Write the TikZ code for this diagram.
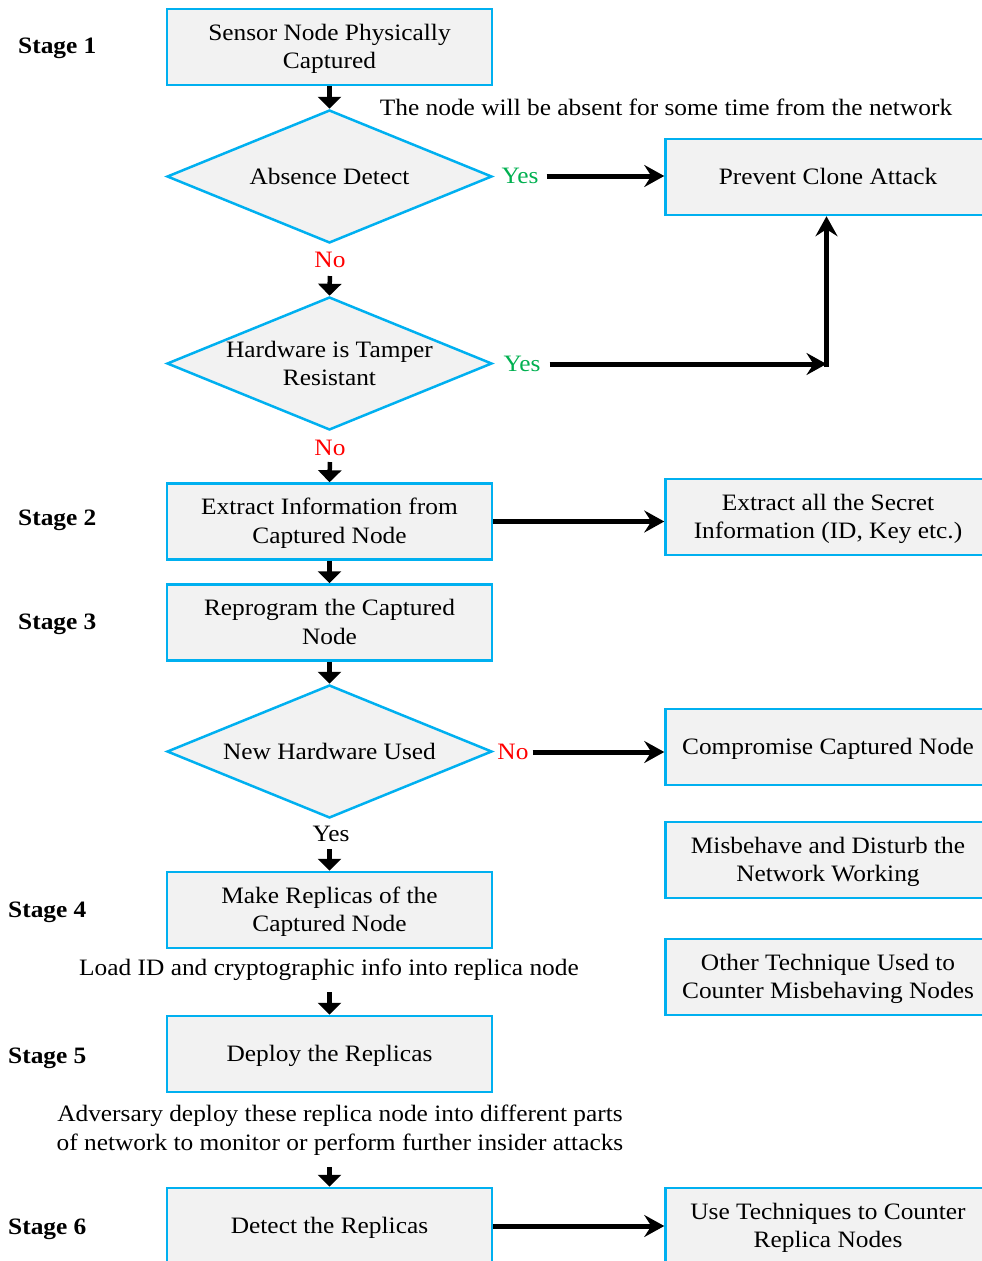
\documentclass[tikz,border=0pt]{standalone}
\usepackage{fontspec}
\setmainfont{Liberation Serif}[FakeStretch=1.08]
\usetikzlibrary{shapes.geometric,arrows.meta}
\definecolor{edge}{HTML}{00B0F0}
\definecolor{boxfill}{HTML}{F2F2F2}
\definecolor{yesgreen}{HTML}{00B050}
\definecolor{nored}{HTML}{FF0000}
% uniform line strut for text inside the process boxes
\newcommand\ls{\rule[-6.75pt]{0pt}{28.5pt}}
\newcommand\nl{\\\ls}

\begin{document}
\begin{tikzpicture}[x=1pt,y=-1pt,
  every node/.style={font=\fontsize{23.5}{28.5}\selectfont},
  procbox/.style={draw=edge, fill=boxfill, line width=2.5pt, minimum width=325pt,
    minimum height=76pt, align=center, inner sep=0pt},
  decision/.style={diamond, draw=edge, fill=boxfill, line width=2.5pt,
    minimum width=325pt, minimum height=133pt, inner sep=0pt},
  dtext/.style={align=center, inner sep=0pt},
  stagelabel/.style={font=\fontsize{23.5}{26}\selectfont\bfseries, anchor=west, inner sep=0pt},
  note/.style={align=center, inner sep=0pt},
  yeslbl/.style={text=yesgreen, inner sep=0pt},
  nolbl/.style={text=nored, inner sep=0pt},
  down/.style={line width=4.5pt, -{Triangle[length=12pt,width=23pt]}},
  side/.style={line width=5pt, -{Stealth[length=20pt,width=22pt,inset=7pt]}},
]
\useasboundingbox (0,0) rectangle (982,1261);
\clip (0,0) rectangle (982,1261);

% stage labels
\node[stagelabel] (s1) at (18,48) {Stage 1};
\node[stagelabel] (s2) at (18,520) {Stage 2};
\node[stagelabel] (s3) at (18,624) {Stage 3};
\node[stagelabel] (s4) at (8,912) {Stage 4};
\node[stagelabel] (s5) at (8,1058) {Stage 5};
\node[stagelabel] (s6) at (8,1229) {Stage 6};

% main column
\node[procbox] (capt) at (329.5,47) {\ls Sensor Node Physically\nl Captured};
\node[decision] (absent) at (329.5,176.5) {};
\node[dtext] (absentT) at (absent.center) {Absence Detect};
\node[decision] (tamper) at (329.5,363.5) {};
\node[dtext] (tamperT) at (tamper.center) {Hardware is Tamper\\Resistant};
\node[procbox] (extract) at (329.5,521.5) {\ls Extract Information from\nl Captured Node};
\node[procbox] (reprog) at (329.5,622.5) {\ls Reprogram the Captured\nl Node};
\node[decision] (newhw) at (329.5,751.5) {};
\node[dtext] (newhwT) at (newhw.center) {New Hardware Used};
\node[procbox] (replicas) at (329.5,910) {\ls Make Replicas of the\nl Captured Node};
\node[procbox] (deploy) at (329.5,1054) {\ls Deploy the Replicas};
\node[procbox] (detect) at (329.5,1226) {\ls Detect the Replicas};

% right column
\node[procbox] (prevent) at (828,177) {\ls Prevent Clone Attack};
\node[procbox] (secret) at (828,517) {\ls Extract all the Secret\nl Information (ID, Key etc.)};
\node[procbox] (compromise) at (828,747) {\ls Compromise Captured Node};
\node[procbox] (misbehave) at (828,860) {\ls Misbehave and Disturb the\nl Network Working};
\node[procbox] (other) at (828,977) {\ls Other Technique Used to\nl Counter Misbehaving Nodes};
\node[procbox] (counter) at (828,1226) {\ls Use Techniques to Counter\nl Replica Nodes};

% notes and branch labels
\node[note] (absnote) at (666,107) {The node will be absent for some time from the network};
\node[note] (loadnote) at (329,970) {Load ID and cryptographic info into replica node};
\node[note] (deploynote) at (340,1130) {Adversary deploy these replica node into different parts\\of network to monitor or perform further insider attacks};
\node[yeslbl] (yes1) at (520,176) {Yes};
\node[yeslbl] (yes2) at (522,364) {Yes};
\node[nolbl] (no1) at (330,260) {No};
\node[nolbl] (no2) at (330,448) {No};
\node[nolbl] (no3) at (513,752) {No};
\node[inner sep=0pt] (yes3) at (331,834) {Yes};
\coordinate (bend) at (826.5,364);

% vertical flow
\draw[down] (capt.south) -- (absent.north);
\draw[down, shorten <=8pt] (no1.south) -- (tamper.north);
\draw[down, shorten <=6pt] (no2.south) -- (extract.north);
\draw[down] (extract.south) -- (reprog.north);
\draw[down] (reprog.south) -- (newhw.north);
\draw[down, shorten <=7pt] (yes3.south -| replicas.north) -- (replicas.north);
\draw[down, shorten <=11pt] (loadnote.south -| deploy.north) -- (deploy.north);
\draw[down, shorten <=12pt] (deploynote.south -| detect.north) -- (detect.north);

% side branches
\draw[side, shorten <=8pt] (yes1.east) -- (yes1.east -| prevent.west);
\draw[side, shorten <=9pt] (yes2.east) -- (bend);
\draw[side, line cap=rect] (bend) -- (bend |- prevent.south);
\draw[side] (extract.east) -- (extract.east -| secret.west);
\draw[side, shorten <=4pt] (no3.east) -- (no3.east -| compromise.west);
\draw[side] (detect.east) -- (detect.east -| counter.west);
\end{tikzpicture}
\end{document}
